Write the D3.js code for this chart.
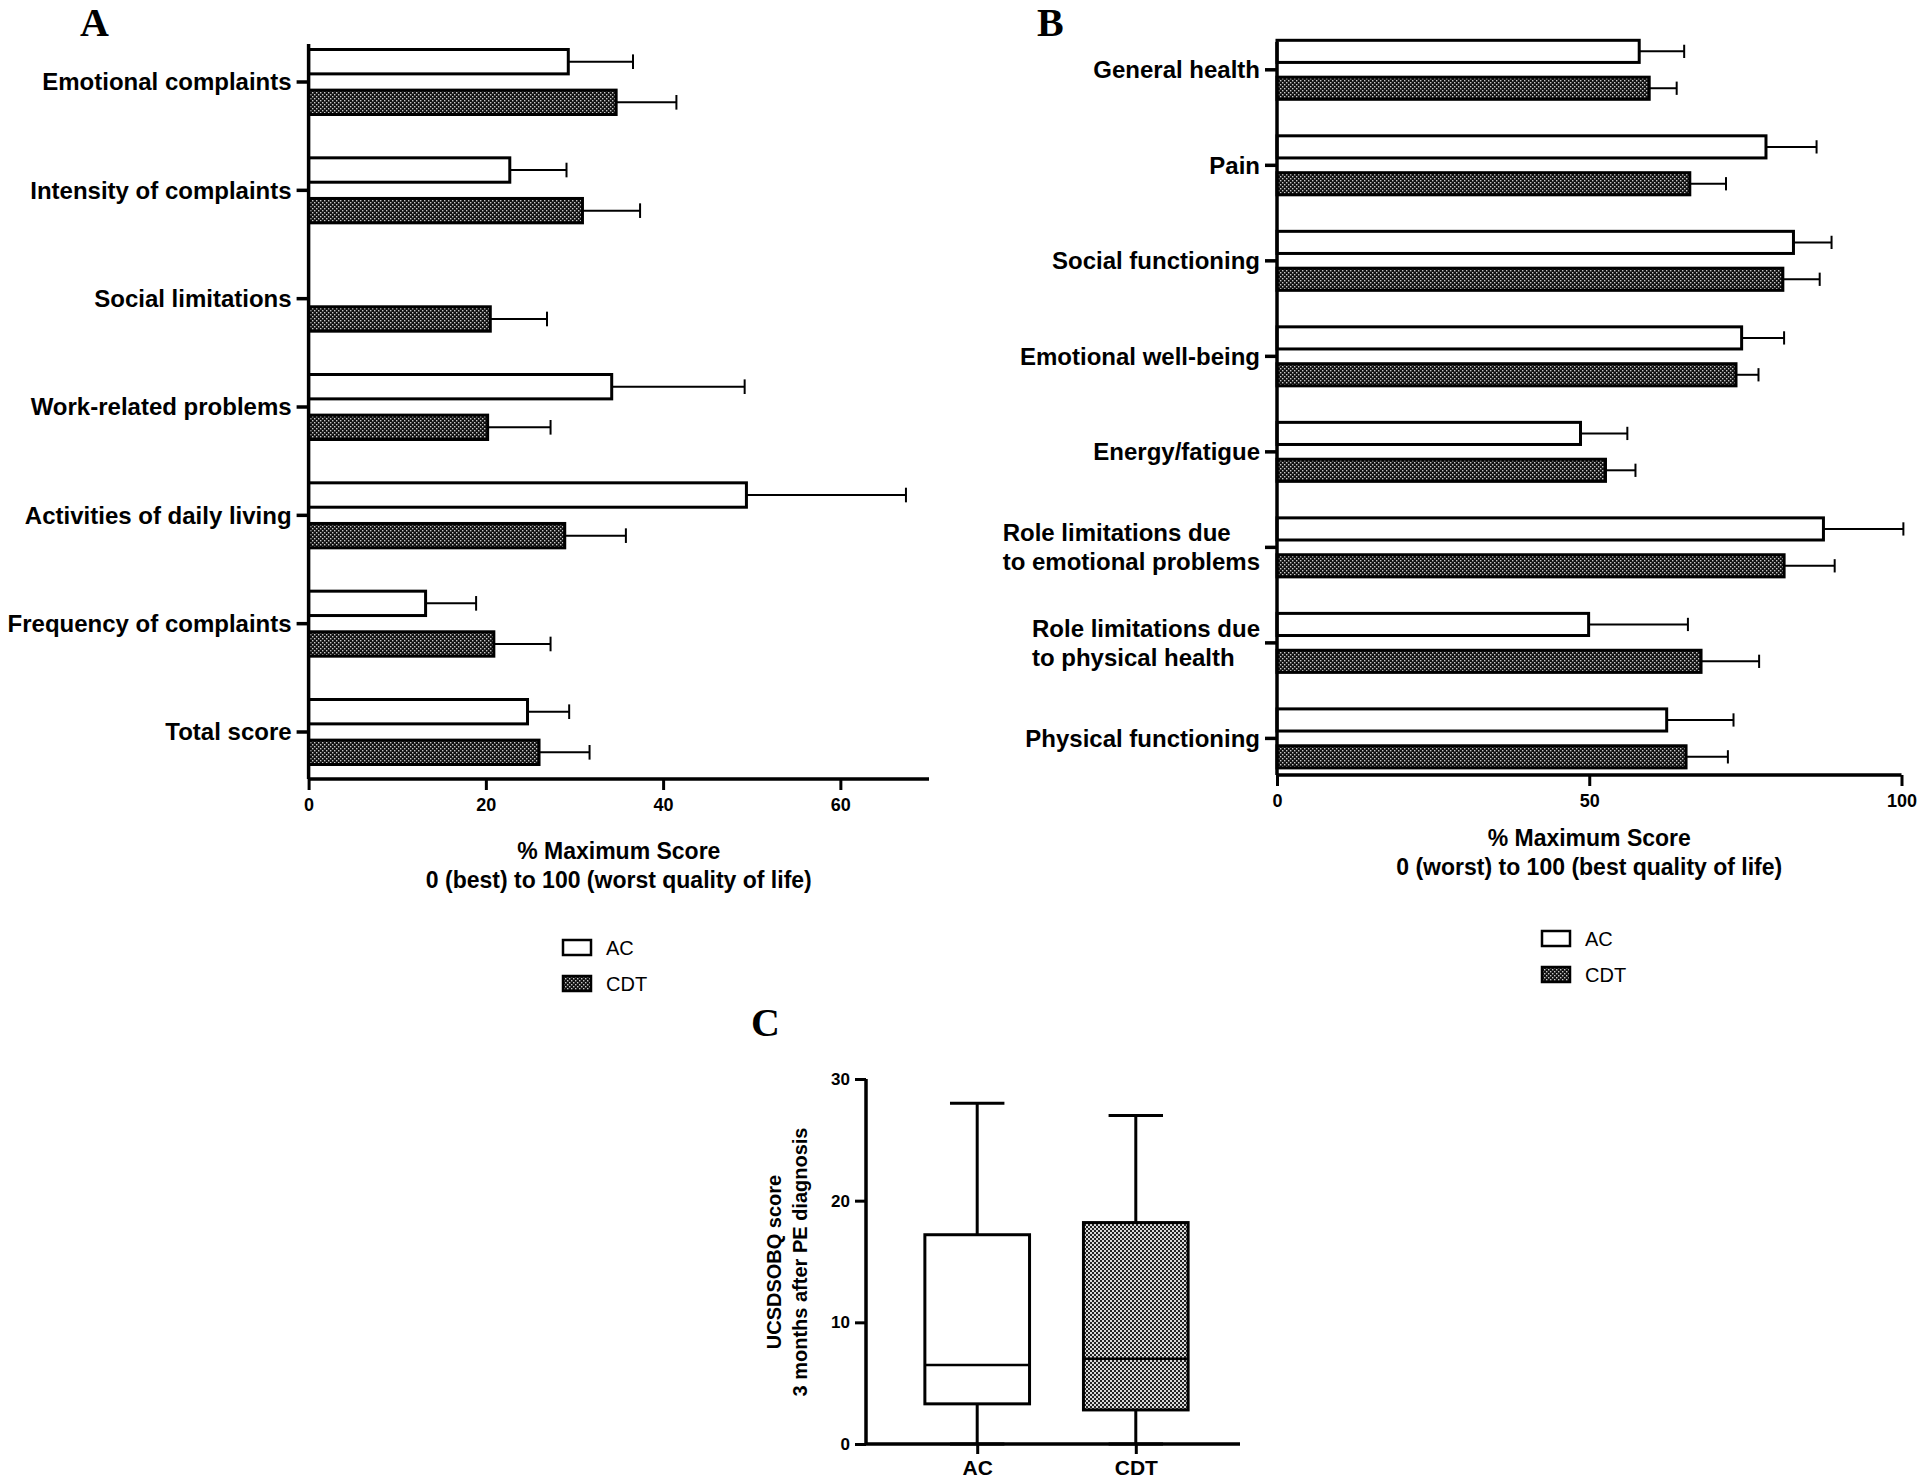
<!DOCTYPE html>
<html><head><meta charset="utf-8">
<script src="https://cdn.jsdelivr.net/npm/d3@7"></script>
<style>
html,body{margin:0;padding:0;background:#fff;}
svg text{font-family:"Liberation Sans",Arial,sans-serif;}
svg text.letter{font-family:"Liberation Serif","Times New Roman",serif;}
</style></head>
<body>
<svg id="chart" width="1920" height="1482"></svg>
<script>
// ---------- DATA ----------
const groups = ["AC", "CDT"];

const categoriesA = ["Emotional complaints","Intensity of complaints","Social limitations","Work-related problems","Activities of daily living","Frequency of complaints","Total score"];
const acMeanA  = [29.3, 22.7, null, 34.2, 49.4, 13.2, 24.7];
const acErrA   = [7.3, 6.4, null, 15.0, 18.0, 5.7, 4.7];
const cdtMeanA = [34.7, 30.9, 20.5, 20.2, 28.9, 20.9, 26.0];
const cdtErrA  = [6.8, 6.5, 6.4, 7.1, 6.9, 6.4, 5.7];
const ticksA = [0, 20, 40, 60];

const categoriesB = ["General health","Pain","Social functioning","Emotional well-being","Energy/fatigue","Role limitations due to emotional problems","Role limitations due to physical health","Physical functioning"];
const labelLinesB = [["General health"],["Pain"],["Social functioning"],["Emotional well-being"],["Energy/fatigue"],["Role limitations due","to emotional problems"],["Role limitations due","to physical health"],["Physical functioning"]];
const acMeanB  = [58.0, 78.3, 82.7, 74.4, 48.6, 87.5, 49.9, 62.4];
const acErrB   = [7.2, 8.1, 6.1, 6.8, 7.5, 12.8, 15.9, 10.7];
const cdtMeanB = [59.6, 66.1, 81.0, 73.5, 52.6, 81.2, 67.9, 65.5];
const cdtErrB  = [4.4, 5.8, 5.9, 3.6, 4.8, 8.1, 9.3, 6.7];
const ticksB = [0, 50, 100];

const boxGroupsC = ["AC", "CDT"];
const boxMinC    = [0, 0];
const boxQ1C     = [3.3, 2.8];
const boxMedianC = [6.5, 7.0];
const boxQ3C     = [17.2, 18.2];
const boxMaxC    = [28, 27];
const ticksC = [0, 10, 20, 30];

// ---------- SETUP ----------
const svg = d3.select("#chart");
const defs = svg.append("defs");
// dense dot pattern for CDT bars
const p1 = defs.append("pattern").attr("id","dots").attr("patternUnits","userSpaceOnUse").attr("width",4).attr("height",4);
p1.append("rect").attr("width",4).attr("height",4).attr("fill","#111");
p1.append("rect").attr("x",0).attr("y",0).attr("width",1.4).attr("height",1.4).attr("fill","#c8c8c8");
p1.append("rect").attr("x",2).attr("y",2).attr("width",1.4).attr("height",1.4).attr("fill","#c8c8c8");
// checker pattern for CDT box
const p2 = defs.append("pattern").attr("id","checker").attr("patternUnits","userSpaceOnUse").attr("width",4).attr("height",4);
p2.append("rect").attr("width",4).attr("height",4).attr("fill","#d8d8d8");
p2.append("rect").attr("x",0).attr("y",0).attr("width",2).attr("height",2).attr("fill","#222");
p2.append("rect").attr("x",2).attr("y",2).attr("width",2).attr("height",2).attr("fill","#222");

const fillFor = g => g === "AC" ? "#fff" : "url(#dots)";

function barPanel(opt) {
  const g = svg.append("g");
  const x = d3.scaleLinear().domain(opt.domain).range([opt.x0, opt.x1]);
  const step = (opt.lastTick - opt.firstTick) / (opt.cats.length - 1);
  const y = d3.scaleBand().domain(opt.cats)
    .range([opt.firstTick - step/2, opt.lastTick + step/2])
    .paddingInner(1 - opt.groupH/step).paddingOuter((1 - opt.groupH/step)/2);
  const ySub = d3.scaleBand().domain(groups).range([0, y.bandwidth()]).paddingInner(0.4);

  const rows = [];
  opt.cats.forEach((c, i) => {
    rows.push({cat: c, grp: "AC", v: opt.ac[i], e: opt.acErr[i]});
    rows.push({cat: c, grp: "CDT", v: opt.cdt[i], e: opt.cdtErr[i]});
  });
  const data = rows.filter(d => d.v != null);

  const capH = ySub.bandwidth() * 0.6;
  // error bars
  g.selectAll(".err").data(data).join("line")
    .attr("x1", d => x(d.v)).attr("x2", d => x(d.v + d.e))
    .attr("y1", d => y(d.cat) + ySub(d.grp) + ySub.bandwidth()/2)
    .attr("y2", d => y(d.cat) + ySub(d.grp) + ySub.bandwidth()/2)
    .attr("stroke", "#000").attr("stroke-width", 2);
  g.selectAll(".cap").data(data).join("line")
    .attr("x1", d => x(d.v + d.e)).attr("x2", d => x(d.v + d.e))
    .attr("y1", d => y(d.cat) + ySub(d.grp) + ySub.bandwidth()/2 - capH/2)
    .attr("y2", d => y(d.cat) + ySub(d.grp) + ySub.bandwidth()/2 + capH/2)
    .attr("stroke", "#000").attr("stroke-width", 2);
  // bars
  g.selectAll(".bar").data(data).join("rect")
    .attr("x", x(0)).attr("width", d => x(d.v) - x(0))
    .attr("y", d => y(d.cat) + ySub(d.grp)).attr("height", ySub.bandwidth())
    .attr("fill", d => fillFor(d.grp)).attr("stroke", "#000").attr("stroke-width", 3);

  // x axis
  const xa = g.append("g").attr("transform", `translate(0,${opt.axisY})`)
    .call(d3.axisBottom(x).tickValues(opt.ticks).tickSize(11).tickSizeOuter(0).tickPadding(8));
  xa.select(".domain").remove();
  xa.selectAll(".tick line").attr("stroke","#000").attr("stroke-width",3);
  xa.selectAll(".tick text").attr("font-size",18).attr("font-weight","bold").attr("fill","#000");
  g.append("line").attr("x1", x(0)).attr("x2", opt.x1).attr("y1", opt.axisY).attr("y2", opt.axisY)
    .attr("stroke","#000").attr("stroke-width",3.5);
  // y axis
  g.append("line").attr("x1", x(0)).attr("x2", x(0)).attr("y1", opt.axisTop).attr("y2", opt.axisY)
    .attr("stroke","#000").attr("stroke-width",3.5);
  const ticks = g.selectAll(".ytick").data(opt.cats).join("g")
    .attr("transform", d => `translate(${x(0)},${y(d) + y.bandwidth()/2})`);
  ticks.append("line").attr("x1", -12).attr("x2", 0).attr("stroke","#000").attr("stroke-width",3.5);
  ticks.each(function(d, i) {
    const lines = opt.lines[i];
    const t = d3.select(this);
    if (lines.length === 1) {
      t.append("text").attr("x", -17).attr("dy", "0.35em").attr("text-anchor","end")
        .attr("font-size", 24).attr("font-weight","bold").text(lines[0]);
    } else {
      const txt = t.selectAll("text").data(lines).join("text")
        .attr("y", (l, j) => (j - 0.5) * 29).attr("dy","0.35em")
        .attr("font-size", 24).attr("font-weight","bold").text(l => l);
      let w = 0; txt.each(function(){ w = Math.max(w, this.getComputedTextLength()); });
      txt.attr("x", -17 - w).attr("text-anchor","start");
    }
  });
  // axis title
  const cx = (x(0) + opt.x1) / 2;
  g.append("text").attr("x", cx).attr("y", opt.titleY).attr("text-anchor","middle")
    .attr("font-size", 23).attr("font-weight","bold").text("% Maximum Score");
  g.append("text").attr("x", cx).attr("y", opt.titleY + 29).attr("text-anchor","middle")
    .attr("font-size", 23).attr("font-weight","bold").text(opt.title2);
  // legend
  const lg = g.append("g").attr("transform", `translate(${opt.legX},${opt.legY})`);
  groups.forEach((gr, i) => {
    lg.append("rect").attr("x", 0).attr("y", i*36).attr("width", 28).attr("height", 15)
      .attr("fill", fillFor(gr)).attr("stroke","#000").attr("stroke-width",2.5);
    lg.append("text").attr("x", 43).attr("y", i*36 + 7.5).attr("dy","0.35em")
      .attr("font-size", 20).text(gr);
  });
  // panel letter
  svg.append("text").attr("class","letter").attr("x", opt.letterX).attr("y", 36)
    .attr("font-weight","bold").attr("font-size", 40).text(opt.letter);
}

barPanel({
  cats: categoriesA, lines: categoriesA.map(c => [c]),
  ac: acMeanA, acErr: acErrA, cdt: cdtMeanA, cdtErr: cdtErrA,
  domain: [0, 70], x0: 308.6, x1: 929, ticks: ticksA,
  firstTick: 82, lastTick: 732, groupH: 65, axisTop: 44, axisY: 779,
  titleY: 859, title2: "0 (best) to 100 (worst quality of life)",
  legX: 563, legY: 940, letter: "A", letterX: 80
});
barPanel({
  cats: categoriesB, lines: labelLinesB,
  ac: acMeanB, acErr: acErrB, cdt: cdtMeanB, cdtErr: cdtErrB,
  domain: [0, 100], x0: 1277, x1: 1901.5, ticks: ticksB,
  firstTick: 69.8, lastTick: 738.4, groupH: 59, axisTop: 42, axisY: 775,
  titleY: 846, title2: "0 (worst) to 100 (best quality of life)",
  legX: 1542, legY: 931, letter: "B", letterX: 1037
});

// ---------- PANEL C ----------
(function(){
  const g = svg.append("g");
  const y = d3.scaleLinear().domain([0, 30]).range([1444, 1079]);
  const x = d3.scalePoint().domain(boxGroupsC).range([870, 1243]).padding(0.676);
  const bw = x.step() * 0.66, capW = bw * 0.52;
  const boxes = boxGroupsC.map((k, i) => ({k, min: boxMinC[i], q1: boxQ1C[i], med: boxMedianC[i], q3: boxQ3C[i], max: boxMaxC[i]}));
  const bx = g.selectAll(".box").data(boxes).join("g");
  bx.append("line").attr("x1", d => x(d.k)).attr("x2", d => x(d.k)).attr("y1", d => y(d.max)).attr("y2", d => y(d.min))
    .attr("stroke","#000").attr("stroke-width",3);
  bx.append("line").attr("x1", d => x(d.k) - capW/2).attr("x2", d => x(d.k) + capW/2).attr("y1", d => y(d.max)).attr("y2", d => y(d.max))
    .attr("stroke","#000").attr("stroke-width",3);
  bx.append("line").attr("x1", d => x(d.k) - capW/2).attr("x2", d => x(d.k) + capW/2).attr("y1", d => y(d.min)).attr("y2", d => y(d.min))
    .attr("stroke","#000").attr("stroke-width",3);
  bx.append("rect").attr("x", d => x(d.k) - bw/2).attr("width", bw)
    .attr("y", d => y(d.q3)).attr("height", d => y(d.q1) - y(d.q3))
    .attr("fill", d => d.k === "AC" ? "#fff" : "url(#checker)").attr("stroke","#000").attr("stroke-width",3);
  bx.append("line").attr("x1", d => x(d.k) - bw/2).attr("x2", d => x(d.k) + bw/2).attr("y1", d => y(d.med)).attr("y2", d => y(d.med))
    .attr("stroke","#000").attr("stroke-width",2.5);

  const ya = g.append("g").attr("transform","translate(866,0)")
    .call(d3.axisLeft(y).tickValues(ticksC).tickSize(11).tickSizeOuter(0).tickPadding(5));
  ya.select(".domain").remove();
  ya.selectAll(".tick line").attr("stroke","#000").attr("stroke-width",3);
  ya.selectAll(".tick text").attr("font-size",17).attr("font-weight","bold").attr("fill","#000");
  g.append("line").attr("x1",866).attr("x2",866).attr("y1",y(30)).attr("y2",y(0)).attr("stroke","#000").attr("stroke-width",3.5);
  const xa = g.append("g").attr("transform",`translate(0,${y(0)})`)
    .call(d3.axisBottom(x).tickSize(10).tickSizeOuter(0).tickPadding(6));
  xa.select(".domain").remove();
  xa.selectAll(".tick line").attr("stroke","#000").attr("stroke-width",3);
  xa.selectAll(".tick text").attr("font-size",21).attr("font-weight","bold").attr("fill","#000");
  g.append("line").attr("x1",866).attr("x2",1240).attr("y1",y(0)).attr("y2",y(0)).attr("stroke","#000").attr("stroke-width",3.5);

  const lab = g.append("text").attr("transform","translate(787,1262) rotate(-90)").attr("text-anchor","middle")
    .attr("font-size",20).attr("font-weight","bold");
  lab.append("tspan").attr("x",0).attr("dy","-0.3em").text("UCSDSOBQ score");
  lab.append("tspan").attr("x",0).attr("dy","1.3em").text("3 months after PE diagnosis");

  svg.append("text").attr("class","letter").attr("x", 751).attr("y", 1036)
    .attr("font-weight","bold").attr("font-size", 40).text("C");
})();
</script>
</body></html>
